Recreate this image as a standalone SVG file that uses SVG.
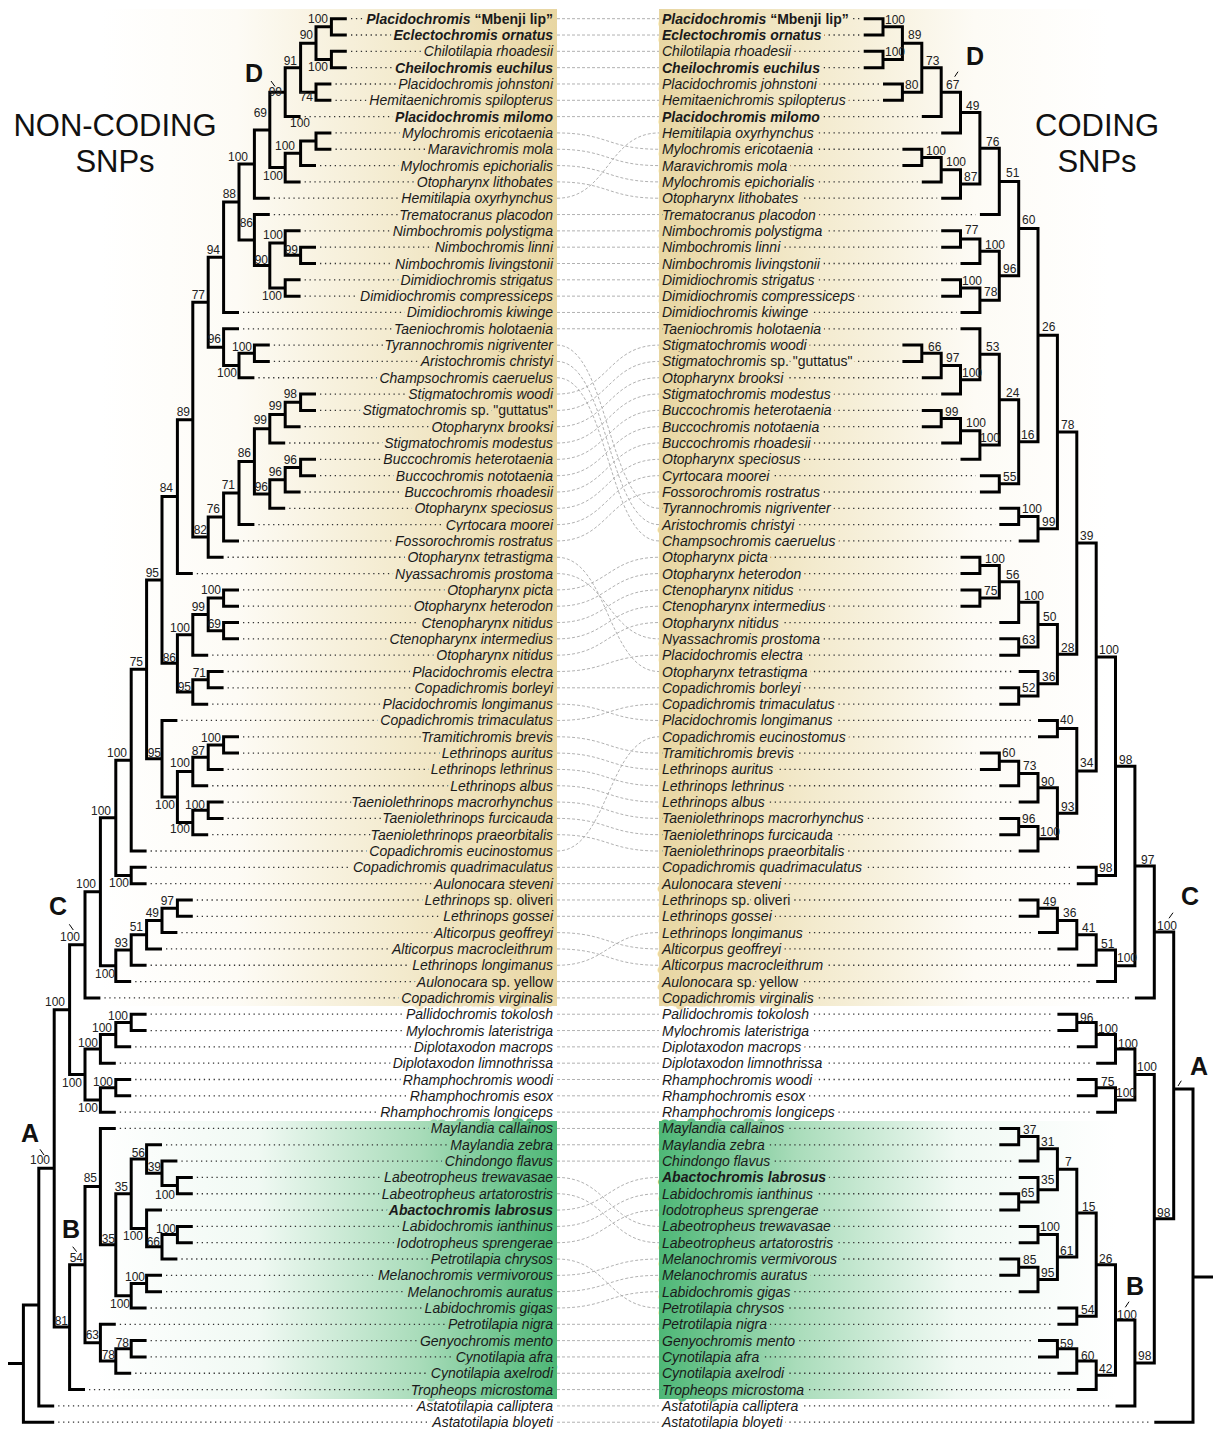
<svg xmlns="http://www.w3.org/2000/svg" width="1213" height="1429" viewBox="0 0 1213 1429">
<style>
.tx{font-family:"Liberation Sans",Arial,sans-serif;font-size:14px;font-style:italic;fill:#1a1a1a;dominant-baseline:central;paint-order:stroke;stroke-width:7px;stroke-linejoin:round}
.L{text-anchor:end}
.R{text-anchor:start}
.hTL{stroke:url(#gTL)}
.hTR{stroke:url(#gTR)}
.hGL{stroke:url(#gGL)}
.hGR{stroke:url(#gGR)}
.hW{stroke:#fff}
.b{font-weight:bold}
.n{font-style:normal}
.bs{font-family:"Liberation Sans",Arial,sans-serif;font-size:12px;fill:#222;dominant-baseline:central}
.bsL{text-anchor:end}
.big{font-family:"Liberation Sans",Arial,sans-serif;font-size:25px;font-weight:bold;text-anchor:middle;fill:#111}
.title{font-family:"Liberation Sans",Arial,sans-serif;font-size:31px;text-anchor:middle;fill:#111}
.tree{fill:none;stroke:#000;stroke-width:3}
.dots{fill:none;stroke:#333;stroke-width:1.3;stroke-dasharray:1.3 3.6}
.conn{fill:none;stroke:#a8a8a8;stroke-width:0.9;stroke-dasharray:3 2}
.tick{stroke:#000;stroke-width:1}
</style>
<defs>
<linearGradient id="gTL" gradientUnits="userSpaceOnUse" x1="100" y1="0" x2="557" y2="0">
<stop offset="0" stop-color="#ffffff"/><stop offset="0.3" stop-color="#fdfbf5"/><stop offset="0.66" stop-color="#f3eacd"/><stop offset="1" stop-color="#e8d6a2"/>
</linearGradient>
<linearGradient id="gTR" gradientUnits="userSpaceOnUse" x1="659" y1="0" x2="1110" y2="0">
<stop offset="0" stop-color="#e8d6a2"/><stop offset="0.34" stop-color="#f3eacd"/><stop offset="0.7" stop-color="#fdfbf5"/><stop offset="1" stop-color="#ffffff"/>
</linearGradient>
<linearGradient id="gGL" gradientUnits="userSpaceOnUse" x1="97" y1="0" x2="557" y2="0">
<stop offset="0" stop-color="#ffffff"/><stop offset="0.35" stop-color="#f0f9f3"/><stop offset="0.7" stop-color="#a9dcba"/><stop offset="1" stop-color="#4db776"/>
</linearGradient>
<linearGradient id="gGR" gradientUnits="userSpaceOnUse" x1="659" y1="0" x2="1116" y2="0">
<stop offset="0" stop-color="#4db776"/><stop offset="0.3" stop-color="#a9dcba"/><stop offset="0.65" stop-color="#f0f9f3"/><stop offset="1" stop-color="#ffffff"/>
</linearGradient>
</defs>
<rect width="1213" height="1429" fill="#fff"/>
<g id="backgrounds-tan">
<rect x="95" y="9" width="462" height="997" fill="url(#gTL)"/>
<rect x="659" y="9" width="456" height="997" fill="url(#gTR)"/>
</g>
<g id="titles">
<text class="title" x="115" y="136">NON-CODING</text>
<text class="title" x="115" y="172">SNPs</text>
<text class="title" x="1097" y="136">CODING</text>
<text class="title" x="1097" y="172">SNPs</text>
</g>
<g id="connectors">
<path class="conn" d="M557 18.7H659M557 35.02H659M557 51.34H659M557 67.66H659M557 83.98H659M557 100.3H659M557 116.62H659M557 214.54H659M557 230.86H659M557 247.18H659M557 263.5H659M557 279.82H659M557 296.14H659M557 312.46H659M557 328.78H659M557 687.82H659M557 867.34H659M557 883.66H659M557 899.98H659M557 916.3H659M557 981.58H659M557 997.9H659M557 1014.22H659M557 1030.54H659M557 1046.86H659M557 1063.18H659M557 1079.5H659M557 1095.82H659M557 1112.14H659M557 1128.46H659M557 1144.78H659M557 1161.1H659M557 1324.3H659M557 1340.62H659M557 1356.94H659M557 1373.26H659M557 1389.58H659M557 1405.9H659M557 1422.22H659"/>
<path class="conn" d="M557 132.94C608 132.94 608 149.26 659 149.26M557 149.26C608 149.26 608 165.58 659 165.58M557 165.58C608 165.58 608 181.9 659 181.9M557 181.9C608 181.9 608 198.22 659 198.22M557 198.22C608 198.22 608 132.94 659 132.94M557 345.1C608 345.1 608 508.3 659 508.3M557 361.42C608 361.42 608 524.62 659 524.62M557 377.74C608 377.74 608 540.94 659 540.94M557 394.06C608 394.06 608 345.1 659 345.1M557 410.38C608 410.38 608 361.42 659 361.42M557 426.7C608 426.7 608 377.74 659 377.74M557 443.02C608 443.02 608 394.06 659 394.06M557 459.34C608 459.34 608 410.38 659 410.38M557 475.66C608 475.66 608 426.7 659 426.7M557 491.98C608 491.98 608 443.02 659 443.02M557 508.3C608 508.3 608 459.34 659 459.34M557 524.62C608 524.62 608 475.66 659 475.66M557 540.94C608 540.94 608 491.98 659 491.98M557 557.26C608 557.26 608 671.5 659 671.5M557 573.58C608 573.58 608 638.86 659 638.86M557 589.9C608 589.9 608 557.26 659 557.26M557 606.22C608 606.22 608 573.58 659 573.58M557 622.54C608 622.54 608 589.9 659 589.9M557 638.86C608 638.86 608 606.22 659 606.22M557 655.18C608 655.18 608 622.54 659 622.54M557 671.5C608 671.5 608 655.18 659 655.18M557 704.14C608 704.14 608 720.46 659 720.46M557 720.46C608 720.46 608 704.14 659 704.14M557 736.78C608 736.78 608 753.1 659 753.1M557 753.1C608 753.1 608 769.42 659 769.42M557 769.42C608 769.42 608 785.74 659 785.74M557 785.74C608 785.74 608 802.06 659 802.06M557 802.06C608 802.06 608 818.38 659 818.38M557 818.38C608 818.38 608 834.7 659 834.7M557 834.7C608 834.7 608 851.02 659 851.02M557 851.02C608 851.02 608 736.78 659 736.78M557 932.62C608 932.62 608 948.94 659 948.94M557 948.94C608 948.94 608 965.26 659 965.26M557 965.26C608 965.26 608 932.62 659 932.62M557 1177.42C608 1177.42 608 1226.38 659 1226.38M557 1193.74C608 1193.74 608 1242.7 659 1242.7M557 1210.06C608 1210.06 608 1177.42 659 1177.42M557 1226.38C608 1226.38 608 1193.74 659 1193.74M557 1242.7C608 1242.7 608 1210.06 659 1210.06M557 1259.02C608 1259.02 608 1307.98 659 1307.98M557 1275.34C608 1275.34 608 1259.02 659 1259.02M557 1291.66C608 1291.66 608 1275.34 659 1275.34M557 1307.98C608 1307.98 608 1291.66 659 1291.66"/>
</g>
<g id="leaders">
<path class="dots" d="M351 18.7H552M351 35.02H552M351 51.34H552M351 67.66H552M335.5 83.98H552M335.5 100.3H552M304.6 116.62H552M335.5 132.94H552M335.5 149.26H552M320 165.58H552M304.6 181.9H552M273.8 198.22H552M273.8 214.54H552M304.6 230.86H552M320 247.18H552M320 263.5H552M304.6 279.82H552M304.6 296.14H552M243 312.46H552M243 328.78H552M273.8 345.1H552M273.8 361.42H552M258.4 377.74H552M320 394.06H552M320 410.38H552M304.6 426.7H552M289.2 443.02H552M320 459.34H552M320 475.66H552M304.6 491.98H552M289.2 508.3H552M258.4 524.62H552M243 540.94H552M227.6 557.26H552M196.8 573.58H552M243 589.9H552M243 606.22H552M243 622.54H552M243 638.86H552M212.2 655.18H552M227.6 671.5H552M227.6 687.82H552M212.2 704.14H552M181.4 720.46H552M243 736.78H552M243 753.1H552M227.6 769.42H552M212.2 785.74H552M227.6 802.06H552M227.6 818.38H552M212.2 834.7H552M150.6 851.02H552M150.6 867.34H552M150.6 883.66H552M196.8 899.98H552M196.8 916.3H552M181.4 932.62H552M166 948.94H552M150.6 965.26H552M135.2 981.58H552M104.4 997.9H552M150.6 1014.22H552M150.6 1030.54H552M135.2 1046.86H552M119.8 1063.18H552M135.2 1079.5H552M135.2 1095.82H552M119.8 1112.14H552M58.2 1405.9H552M58.2 1422.22H552"/>
<path class="dots" d="M662 18.7H859.7M662 35.02H859.7M662 51.34H859.7M662 67.66H859.7M662 83.98H879M662 100.3H879M662 116.62H917.8M662 132.94H937.2M662 149.26H898.4M662 165.58H898.4M662 181.9H917.8M662 198.22H937.2M662 214.54H975.9M662 230.86H937.2M662 247.18H937.2M662 263.5H956.5M662 279.82H937.2M662 296.14H937.2M662 312.46H956.5M662 328.78H956.5M662 345.1H898.4M662 361.42H898.4M662 377.74H917.8M662 394.06H937.2M662 410.38H917.8M662 426.7H917.8M662 443.02H937.2M662 459.34H956.5M662 475.66H975.9M662 491.98H975.9M662 508.3H995.3M662 524.62H995.3M662 540.94H1014.7M662 557.26H956.5M662 573.58H956.5M662 589.9H956.5M662 606.22H956.5M662 622.54H995.3M662 638.86H995.3M662 655.18H995.3M662 671.5H1014.7M662 687.82H995.3M662 704.14H995.3M662 720.46H1034M662 736.78H1034M662 753.1H975.9M662 769.42H975.9M662 785.74H995.3M662 802.06H1014.7M662 818.38H995.3M662 834.7H995.3M662 851.02H1014.7M662 867.34H1072.8M662 883.66H1072.8M662 899.98H1014.7M662 916.3H1014.7M662 932.62H1034M662 948.94H1053.4M662 965.26H1072.8M662 981.58H1092.2M662 997.9H1130.9M662 1014.22H1053.4M662 1030.54H1053.4M662 1046.86H1072.8M662 1063.18H1092.2M662 1079.5H1072.8M662 1095.82H1072.8M662 1112.14H1092.2M662 1405.9H1111.5M662 1422.22H1150.3"/>
</g>
<g id="labels-outside-boxes" class="tx hW">
<g class="L">
<text id="L61" x="553" y="1014.22">Pallidochromis tokolosh</text>
<text id="L62" x="553" y="1030.54">Mylochromis lateristriga</text>
<text id="L63" x="553" y="1046.86">Diplotaxodon macrops</text>
<text id="L64" x="553" y="1063.18">Diplotaxodon limnothrissa</text>
<text id="L65" x="553" y="1079.5">Rhamphochromis woodi</text>
<text id="L66" x="553" y="1095.82">Rhamphochromis esox</text>
<text id="L67" x="553" y="1112.14">Rhamphochromis longiceps</text>
<text id="L85" x="553" y="1405.9">Astatotilapia calliptera</text>
<text id="L86" x="553" y="1422.22">Astatotilapia bloyeti</text>
</g>
<g class="R">
<text id="R61" x="662" y="1014.22">Pallidochromis tokolosh</text>
<text id="R62" x="662" y="1030.54">Mylochromis lateristriga</text>
<text id="R63" x="662" y="1046.86">Diplotaxodon macrops</text>
<text id="R64" x="662" y="1063.18">Diplotaxodon limnothrissa</text>
<text id="R65" x="662" y="1079.5">Rhamphochromis woodi</text>
<text id="R66" x="662" y="1095.82">Rhamphochromis esox</text>
<text id="R67" x="662" y="1112.14">Rhamphochromis longiceps</text>
<text id="R85" x="662" y="1405.9">Astatotilapia calliptera</text>
<text id="R86" x="662" y="1422.22">Astatotilapia bloyeti</text>
</g>
</g>
<g id="backgrounds-green">
<rect x="97" y="1121" width="460" height="278" fill="url(#gGL)"/>
<rect x="659" y="1121" width="457" height="278" fill="url(#gGR)"/>
</g>
<g id="leaders-green">
<path class="dots" d="M119.8 1128.46H552M166 1144.78H552M181.4 1161.1H552M196.8 1177.42H552M196.8 1193.74H552M166 1210.06H552M196.8 1226.38H552M196.8 1242.7H552M181.4 1259.02H552M166 1275.34H552M166 1291.66H552M150.6 1307.98H552M119.8 1324.3H552M150.6 1340.62H552M150.6 1356.94H552M135.2 1373.26H552M89 1389.58H552"/>
<path class="dots" d="M662 1128.46H995.3M662 1144.78H995.3M662 1161.1H1014.7M662 1177.42H1014.7M662 1193.74H995.3M662 1210.06H995.3M662 1226.38H1014.7M662 1242.7H1014.7M662 1259.02H995.3M662 1275.34H995.3M662 1291.66H1014.7M662 1307.98H1053.4M662 1324.3H1053.4M662 1340.62H1034M662 1356.94H1034M662 1373.26H1053.4M662 1389.58H1072.8"/>
</g>
<g id="tree-noncoding">
<path class="tree" d="M8 1363.6H23.4M38.8 1305H23.4V1422.22H54.2M54.2 1168.37H38.8V1405.9H54.2M69.6 1009.63H54.2V1327.11H69.6M85 944.85H69.6V1074.4H85M85 1264.63H69.6V1389.58H85M100.4 891.81H85V997.9H100.4M100.4 1048.9H85V1099.9H100.4M100.4 1186.6H85V1342.66H100.4M115.8 817.84H100.4V965.77H115.8M115.8 1034.62H100.4V1063.18H115.8M115.8 1087.66H100.4V1112.14H115.8M115.8 1128.46H100.4V1244.74H115.8M115.8 1324.3H100.4V1361.02H115.8M131.2 760.18H115.8V875.5H131.2M131.2 949.96H115.8V981.58H131.2M131.2 1022.38H115.8V1046.86H131.2M131.2 1079.5H115.8V1095.82H131.2M131.2 1193.74H115.8V1295.74H131.2M131.2 1348.78H115.8V1373.26H131.2M146.6 669.35H131.2V851.02H146.6M146.6 867.34H131.2V883.66H146.6M146.6 934.66H131.2V965.26H146.6M146.6 1014.22H131.2V1030.54H146.6M146.6 1159.06H131.2V1228.42H146.6M146.6 1283.5H131.2V1307.98H146.6M146.6 1340.62H131.2V1356.94H146.6M162 579.98H146.6V758.71H162M162 920.38H146.6V948.94H162M162 1144.78H146.6V1173.34H162M162 1210.06H146.6V1246.78H162M162 1275.34H146.6V1291.66H162M177.4 496.62H162V663.34H177.4M177.4 720.46H162V796.96H177.4M177.4 908.14H162V932.62H177.4M177.4 1161.1H162V1185.58H177.4M177.4 1234.54H162V1259.02H177.4M192.8 419.66H177.4V573.58H192.8M192.8 634.78H177.4V691.9H192.8M192.8 771.46H177.4V822.46H192.8M192.8 899.98H177.4V916.3H192.8M192.8 1177.42H177.4V1193.74H192.8M192.8 1226.38H177.4V1242.7H192.8M208.2 302.2H192.8V537.12H208.2M208.2 614.38H192.8V655.18H208.2M208.2 679.66H192.8V704.14H208.2M208.2 757.18H192.8V785.74H208.2M208.2 810.22H192.8V834.7H208.2M223.6 257.26H208.2V347.14H223.6M223.6 516.97H208.2V557.26H223.6M223.6 598.06H208.2V630.7H223.6M223.6 671.5H208.2V687.82H223.6M223.6 744.94H208.2V769.42H223.6M223.6 802.06H208.2V818.38H223.6M239 202.05H223.6V312.46H239M239 328.78H223.6V365.5H239M239 493H223.6V540.94H239M239 589.9H223.6V606.22H239M239 622.54H223.6V638.86H239M239 736.78H223.6V753.1H239M254.4 164.05H239V240.04H254.4M254.4 353.26H239V377.74H254.4M254.4 461.38H239V524.62H254.4M269.8 129.88H254.4V198.22H269.8M269.8 214.54H254.4V265.54H269.8M269.8 345.1H254.4V361.42H269.8M269.8 428.74H254.4V494.02H269.8M285.2 92.14H269.8V167.62H285.2M285.2 243.1H269.8V287.98H285.2M285.2 414.46H269.8V443.02H285.2M285.2 479.74H269.8V508.3H285.2M300.6 67.66H285.2V116.62H300.6M300.6 153.34H285.2V181.9H300.6M300.6 230.86H285.2V255.34H300.6M300.6 279.82H285.2V296.14H300.6M300.6 402.22H285.2V426.7H300.6M300.6 467.5H285.2V491.98H300.6M316 43.18H300.6V92.14H316M316 141.1H300.6V165.58H316M316 247.18H300.6V263.5H316M316 394.06H300.6V410.38H316M316 459.34H300.6V475.66H316M331.4 26.86H316V59.5H331.4M331.4 83.98H316V100.3H331.4M331.4 132.94H316V149.26H331.4M346.8 18.7H331.4V35.02H346.8M346.8 51.34H331.4V67.66H346.8"/>
</g>
<g id="tree-coding">
<path class="tree" d="M1193 1277H1213M1173.7 1089H1193V1422.22H1154.3M1154.3 931.96H1173.7V1218.67H1154.3M1134.9 866.01H1154.3V997.9H1134.9M1134.9 1074.4H1154.3V1362.94H1134.9M1115.5 766.25H1134.9V965.77H1115.5M1115.5 1048.9H1134.9V1099.9H1115.5M1115.5 1319.97H1134.9V1405.9H1115.5M1096.2 657H1115.5V875.5H1096.2M1096.2 949.96H1115.5V981.58H1096.2M1096.2 1034.62H1115.5V1063.18H1096.2M1096.2 1087.66H1115.5V1112.14H1096.2M1096.2 1264.63H1115.5V1375.3H1096.2M1076.8 543.05H1096.2V770.95H1076.8M1076.8 867.34H1096.2V883.66H1076.8M1076.8 934.66H1096.2V965.26H1076.8M1076.8 1022.38H1096.2V1046.86H1076.8M1076.8 1079.5H1096.2V1095.82H1076.8M1076.8 1213.12H1096.2V1316.14H1076.8M1076.8 1361.02H1096.2V1389.58H1076.8M1057.4 431.93H1076.8V654.16H1057.4M1057.4 728.62H1076.8V813.28H1057.4M1057.4 920.38H1076.8V948.94H1057.4M1057.4 1014.22H1076.8V1030.54H1057.4M1057.4 1169.26H1076.8V1256.98H1057.4M1057.4 1307.98H1076.8V1324.3H1057.4M1057.4 1348.78H1076.8V1373.26H1057.4M1038 335.16H1057.4V528.7H1038M1038 624.58H1057.4V683.74H1038M1038 720.46H1057.4V736.78H1038M1038 787.78H1057.4V838.78H1038M1038 908.14H1057.4V932.62H1038M1038 1148.86H1057.4V1189.66H1038M1038 1234.54H1057.4V1279.42H1038M1038 1340.62H1057.4V1356.94H1038M1018.7 228.57H1038V441.75H1018.7M1018.7 516.46H1038V540.94H1018.7M1018.7 602.14H1038V647.02H1018.7M1018.7 671.5H1038V695.98H1018.7M1018.7 773.5H1038V802.06H1018.7M1018.7 826.54H1038V851.02H1018.7M1018.7 899.98H1038V916.3H1018.7M1018.7 1136.62H1038V1161.1H1018.7M1018.7 1177.42H1038V1201.9H1018.7M1018.7 1226.38H1038V1242.7H1018.7M1018.7 1267.18H1038V1291.66H1018.7M999.3 181.39H1018.7V275.74H999.3M999.3 399.67H1018.7V483.82H999.3M999.3 508.3H1018.7V524.62H999.3M999.3 581.74H1018.7V622.54H999.3M999.3 638.86H1018.7V655.18H999.3M999.3 687.82H1018.7V704.14H999.3M999.3 761.26H1018.7V785.74H999.3M999.3 818.38H1018.7V834.7H999.3M999.3 1128.46H1018.7V1144.78H999.3M999.3 1193.74H1018.7V1210.06H999.3M999.3 1259.02H1018.7V1275.34H999.3M979.9 148.24H999.3V214.54H979.9M979.9 251.26H999.3V300.22H979.9M979.9 354.28H999.3V445.06H979.9M979.9 475.66H999.3V491.98H979.9M979.9 565.42H999.3V598.06H979.9M979.9 753.1H999.3V769.42H979.9M960.5 112.54H979.9V183.94H960.5M960.5 239.02H979.9V263.5H960.5M960.5 287.98H979.9V312.46H960.5M960.5 328.78H979.9V379.78H960.5M960.5 430.78H979.9V459.34H960.5M960.5 557.26H979.9V573.58H960.5M960.5 589.9H979.9V606.22H960.5M941.2 92.14H960.5V132.94H941.2M941.2 169.66H960.5V198.22H941.2M941.2 230.86H960.5V247.18H941.2M941.2 279.82H960.5V296.14H941.2M941.2 365.5H960.5V394.06H941.2M941.2 418.54H960.5V443.02H941.2M921.8 67.66H941.2V116.62H921.8M921.8 157.42H941.2V181.9H921.8M921.8 353.26H941.2V377.74H921.8M921.8 410.38H941.2V426.7H921.8M902.4 43.18H921.8V92.14H902.4M902.4 149.26H921.8V165.58H902.4M902.4 345.1H921.8V361.42H902.4M883 26.86H902.4V59.5H883M883 83.98H902.4V100.3H883M863.7 18.7H883V35.02H863.7M863.7 51.34H883V67.66H863.7"/>
</g>
<g id="labels-noncoding" class="tx L">
<g class="hTL">
<text id="L0" class="b" x="553" y="18.7">Placidochromis <tspan class="n">“Mbenji lip”</tspan></text>
<text id="L1" class="b" x="553" y="35.02">Eclectochromis ornatus</text>
<text id="L2" x="553" y="51.34">Chilotilapia rhoadesii</text>
<text id="L3" class="b" x="553" y="67.66">Cheilochromis euchilus</text>
<text id="L4" x="553" y="83.98">Placidochromis johnstoni</text>
<text id="L5" x="553" y="100.3">Hemitaenichromis spilopterus</text>
<text id="L6" class="b" x="553" y="116.62">Placidochromis milomo</text>
<text id="L7" x="553" y="132.94">Mylochromis ericotaenia</text>
<text id="L8" x="553" y="149.26">Maravichromis mola</text>
<text id="L9" x="553" y="165.58">Mylochromis epichorialis</text>
<text id="L10" x="553" y="181.9">Otopharynx lithobates</text>
<text id="L11" x="553" y="198.22">Hemitilapia oxyrhynchus</text>
<text id="L12" x="553" y="214.54">Trematocranus placodon</text>
<text id="L13" x="553" y="230.86">Nimbochromis polystigma</text>
<text id="L14" x="553" y="247.18">Nimbochromis linni</text>
<text id="L15" x="553" y="263.5">Nimbochromis livingstonii</text>
<text id="L16" x="553" y="279.82">Dimidiochromis strigatus</text>
<text id="L17" x="553" y="296.14">Dimidiochromis compressiceps</text>
<text id="L18" x="553" y="312.46">Dimidiochromis kiwinge</text>
<text id="L19" x="553" y="328.78">Taeniochromis holotaenia</text>
<text id="L20" x="553" y="345.1">Tyrannochromis nigriventer</text>
<text id="L21" x="553" y="361.42">Aristochromis christyi</text>
<text id="L22" x="553" y="377.74">Champsochromis caeruelus</text>
<text id="L23" x="553" y="394.06">Stigmatochromis woodi</text>
<text id="L24" x="553" y="410.38">Stigmatochromis <tspan class="n">sp. "guttatus"</tspan></text>
<text id="L25" x="553" y="426.7">Otopharynx brooksi</text>
<text id="L26" x="553" y="443.02">Stigmatochromis modestus</text>
<text id="L27" x="553" y="459.34">Buccochromis heterotaenia</text>
<text id="L28" x="553" y="475.66">Buccochromis nototaenia</text>
<text id="L29" x="553" y="491.98">Buccochromis rhoadesii</text>
<text id="L30" x="553" y="508.3">Otopharynx speciosus</text>
<text id="L31" x="553" y="524.62">Cyrtocara moorei</text>
<text id="L32" x="553" y="540.94">Fossorochromis rostratus</text>
<text id="L33" x="553" y="557.26">Otopharynx tetrastigma</text>
<text id="L34" x="553" y="573.58">Nyassachromis prostoma</text>
<text id="L35" x="553" y="589.9">Otopharynx picta</text>
<text id="L36" x="553" y="606.22">Otopharynx heterodon</text>
<text id="L37" x="553" y="622.54">Ctenopharynx nitidus</text>
<text id="L38" x="553" y="638.86">Ctenopharynx intermedius</text>
<text id="L39" x="553" y="655.18">Otopharynx nitidus</text>
<text id="L40" x="553" y="671.5">Placidochromis electra</text>
<text id="L41" x="553" y="687.82">Copadichromis borleyi</text>
<text id="L42" x="553" y="704.14">Placidochromis longimanus</text>
<text id="L43" x="553" y="720.46">Copadichromis trimaculatus</text>
<text id="L44" x="553" y="736.78">Tramitichromis brevis</text>
<text id="L45" x="553" y="753.1">Lethrinops auritus</text>
<text id="L46" x="553" y="769.42">Lethrinops lethrinus</text>
<text id="L47" x="553" y="785.74">Lethrinops albus</text>
<text id="L48" x="553" y="802.06">Taeniolethrinops macrorhynchus</text>
<text id="L49" x="553" y="818.38">Taeniolethrinops furcicauda</text>
<text id="L50" x="553" y="834.7">Taeniolethrinops praeorbitalis</text>
<text id="L51" x="553" y="851.02">Copadichromis eucinostomus</text>
<text id="L52" x="553" y="867.34">Copadichromis quadrimaculatus</text>
<text id="L53" x="553" y="883.66">Aulonocara steveni</text>
<text id="L54" x="553" y="899.98">Lethrinops <tspan class="n">sp. oliveri</tspan></text>
<text id="L55" x="553" y="916.3">Lethrinops gossei</text>
<text id="L56" x="553" y="932.62">Alticorpus geoffreyi</text>
<text id="L57" x="553" y="948.94">Alticorpus macrocleithrum</text>
<text id="L58" x="553" y="965.26">Lethrinops longimanus</text>
<text id="L59" x="553" y="981.58">Aulonocara <tspan class="n">sp. yellow</tspan></text>
<text id="L60" x="553" y="997.9">Copadichromis virginalis</text>
</g>
<g class="hGL">
<text id="L68" x="553" y="1128.46">Maylandia callainos</text>
<text id="L69" x="553" y="1144.78">Maylandia zebra</text>
<text id="L70" x="553" y="1161.1">Chindongo flavus</text>
<text id="L71" x="553" y="1177.42">Labeotropheus trewavasae</text>
<text id="L72" x="553" y="1193.74">Labeotropheus artatorostris</text>
<text id="L73" class="b" x="553" y="1210.06">Abactochromis labrosus</text>
<text id="L74" x="553" y="1226.38">Labidochromis ianthinus</text>
<text id="L75" x="553" y="1242.7">Iodotropheus sprengerae</text>
<text id="L76" x="553" y="1259.02">Petrotilapia chrysos</text>
<text id="L77" x="553" y="1275.34">Melanochromis vermivorous</text>
<text id="L78" x="553" y="1291.66">Melanochromis auratus</text>
<text id="L79" x="553" y="1307.98">Labidochromis gigas</text>
<text id="L80" x="553" y="1324.3">Petrotilapia nigra</text>
<text id="L81" x="553" y="1340.62">Genyochromis mento</text>
<text id="L82" x="553" y="1356.94">Cynotilapia afra</text>
<text id="L83" x="553" y="1373.26">Cynotilapia axelrodi</text>
<text id="L84" x="553" y="1389.58">Tropheops microstoma</text>
</g>
</g>
<g id="labels-coding" class="tx R">
<g class="hTR">
<text id="R0" class="b" x="662" y="18.7">Placidochromis <tspan class="n">“Mbenji lip”</tspan></text>
<text id="R1" class="b" x="662" y="35.02">Eclectochromis ornatus</text>
<text id="R2" x="662" y="51.34">Chilotilapia rhoadesii</text>
<text id="R3" class="b" x="662" y="67.66">Cheilochromis euchilus</text>
<text id="R4" x="662" y="83.98">Placidochromis johnstoni</text>
<text id="R5" x="662" y="100.3">Hemitaenichromis spilopterus</text>
<text id="R6" class="b" x="662" y="116.62">Placidochromis milomo</text>
<text id="R7" x="662" y="132.94">Hemitilapia oxyrhynchus</text>
<text id="R8" x="662" y="149.26">Mylochromis ericotaenia</text>
<text id="R9" x="662" y="165.58">Maravichromis mola</text>
<text id="R10" x="662" y="181.9">Mylochromis epichorialis</text>
<text id="R11" x="662" y="198.22">Otopharynx lithobates</text>
<text id="R12" x="662" y="214.54">Trematocranus placodon</text>
<text id="R13" x="662" y="230.86">Nimbochromis polystigma</text>
<text id="R14" x="662" y="247.18">Nimbochromis linni</text>
<text id="R15" x="662" y="263.5">Nimbochromis livingstonii</text>
<text id="R16" x="662" y="279.82">Dimidiochromis strigatus</text>
<text id="R17" x="662" y="296.14">Dimidiochromis compressiceps</text>
<text id="R18" x="662" y="312.46">Dimidiochromis kiwinge</text>
<text id="R19" x="662" y="328.78">Taeniochromis holotaenia</text>
<text id="R20" x="662" y="345.1">Stigmatochromis woodi</text>
<text id="R21" x="662" y="361.42">Stigmatochromis <tspan class="n">sp. "guttatus"</tspan></text>
<text id="R22" x="662" y="377.74">Otopharynx brooksi</text>
<text id="R23" x="662" y="394.06">Stigmatochromis modestus</text>
<text id="R24" x="662" y="410.38">Buccochromis heterotaenia</text>
<text id="R25" x="662" y="426.7">Buccochromis nototaenia</text>
<text id="R26" x="662" y="443.02">Buccochromis rhoadesii</text>
<text id="R27" x="662" y="459.34">Otopharynx speciosus</text>
<text id="R28" x="662" y="475.66">Cyrtocara moorei</text>
<text id="R29" x="662" y="491.98">Fossorochromis rostratus</text>
<text id="R30" x="662" y="508.3">Tyrannochromis nigriventer</text>
<text id="R31" x="662" y="524.62">Aristochromis christyi</text>
<text id="R32" x="662" y="540.94">Champsochromis caeruelus</text>
<text id="R33" x="662" y="557.26">Otopharynx picta</text>
<text id="R34" x="662" y="573.58">Otopharynx heterodon</text>
<text id="R35" x="662" y="589.9">Ctenopharynx nitidus</text>
<text id="R36" x="662" y="606.22">Ctenopharynx intermedius</text>
<text id="R37" x="662" y="622.54">Otopharynx nitidus</text>
<text id="R38" x="662" y="638.86">Nyassachromis prostoma</text>
<text id="R39" x="662" y="655.18">Placidochromis electra</text>
<text id="R40" x="662" y="671.5">Otopharynx tetrastigma</text>
<text id="R41" x="662" y="687.82">Copadichromis borleyi</text>
<text id="R42" x="662" y="704.14">Copadichromis trimaculatus</text>
<text id="R43" x="662" y="720.46">Placidochromis longimanus</text>
<text id="R44" x="662" y="736.78">Copadichromis eucinostomus</text>
<text id="R45" x="662" y="753.1">Tramitichromis brevis</text>
<text id="R46" x="662" y="769.42">Lethrinops auritus</text>
<text id="R47" x="662" y="785.74">Lethrinops lethrinus</text>
<text id="R48" x="662" y="802.06">Lethrinops albus</text>
<text id="R49" x="662" y="818.38">Taeniolethrinops macrorhynchus</text>
<text id="R50" x="662" y="834.7">Taeniolethrinops furcicauda</text>
<text id="R51" x="662" y="851.02">Taeniolethrinops praeorbitalis</text>
<text id="R52" x="662" y="867.34">Copadichromis quadrimaculatus</text>
<text id="R53" x="662" y="883.66">Aulonocara steveni</text>
<text id="R54" x="662" y="899.98">Lethrinops <tspan class="n">sp. oliveri</tspan></text>
<text id="R55" x="662" y="916.3">Lethrinops gossei</text>
<text id="R56" x="662" y="932.62">Lethrinops longimanus</text>
<text id="R57" x="662" y="948.94">Alticorpus geoffreyi</text>
<text id="R58" x="662" y="965.26">Alticorpus macrocleithrum</text>
<text id="R59" x="662" y="981.58">Aulonocara <tspan class="n">sp. yellow</tspan></text>
<text id="R60" x="662" y="997.9">Copadichromis virginalis</text>
</g>
<g class="hGR">
<text id="R68" x="662" y="1128.46">Maylandia callainos</text>
<text id="R69" x="662" y="1144.78">Maylandia zebra</text>
<text id="R70" x="662" y="1161.1">Chindongo flavus</text>
<text id="R71" class="b" x="662" y="1177.42">Abactochromis labrosus</text>
<text id="R72" x="662" y="1193.74">Labidochromis ianthinus</text>
<text id="R73" x="662" y="1210.06">Iodotropheus sprengerae</text>
<text id="R74" x="662" y="1226.38">Labeotropheus trewavasae</text>
<text id="R75" x="662" y="1242.7">Labeotropheus artatorostris</text>
<text id="R76" x="662" y="1259.02">Melanochromis vermivorous</text>
<text id="R77" x="662" y="1275.34">Melanochromis auratus</text>
<text id="R78" x="662" y="1291.66">Labidochromis gigas</text>
<text id="R79" x="662" y="1307.98">Petrotilapia chrysos</text>
<text id="R80" x="662" y="1324.3">Petrotilapia nigra</text>
<text id="R81" x="662" y="1340.62">Genyochromis mento</text>
<text id="R82" x="662" y="1356.94">Cynotilapia afra</text>
<text id="R83" x="662" y="1373.26">Cynotilapia axelrodi</text>
<text id="R84" x="662" y="1389.58">Tropheops microstoma</text>
</g>
</g>
<g id="support-noncoding" class="bs bsL">
<text x="328" y="19">100</text><text x="328" y="67">100</text><text x="313" y="35">90</text><text x="313" y="97">74</text><text x="297" y="61">91</text><text x="282" y="92">99</text>
<text x="310" y="123">100</text><text x="295" y="146">100</text><text x="283" y="176">100</text><text x="267" y="113">69</text><text x="248" y="157">100</text><text x="236" y="194">88</text>
<text x="283" y="235">100</text><text x="253" y="223">86</text><text x="298" y="250">99</text><text x="268" y="260">90</text><text x="282" y="296">100</text><text x="220" y="250">94</text>
<text x="205" y="295">77</text><text x="221" y="339">96</text><text x="252" y="347">100</text><text x="237" y="373">100</text>
<text x="297" y="394">98</text><text x="282" y="406">99</text><text x="267" y="420">99</text><text x="190" y="412">89</text><text x="251" y="453">86</text>
<text x="297" y="460">96</text><text x="282" y="472">96</text><text x="268" y="487">96</text><text x="235" y="485">71</text><text x="173" y="488">84</text><text x="220" y="509">76</text><text x="207" y="530">82</text>
<text x="159" y="573">95</text><text x="221" y="590">100</text><text x="205" y="607">99</text><text x="221" y="624">69</text><text x="190" y="628">100</text><text x="176" y="658">86</text>
<text x="143" y="662">75</text><text x="206" y="673">71</text><text x="191" y="687">95</text>
<text x="221" y="738">100</text><text x="205" y="751">87</text><text x="127" y="753">100</text><text x="161" y="753">95</text><text x="190" y="763">100</text>
<text x="205" y="805">100</text><text x="175" y="805">100</text><text x="190" y="829">100</text><text x="111" y="811">100</text><text x="129" y="883">100</text><text x="96" y="884">100</text>
<text x="174" y="901">97</text><text x="159" y="913">49</text><text x="143" y="927">51</text><text x="80" y="937">100</text><text x="128" y="943">93</text><text x="115" y="974">100</text>
<text x="65" y="1002">100</text><text x="128" y="1016">100</text><text x="112" y="1028">100</text><text x="98" y="1043">100</text><text x="82" y="1083">100</text><text x="113" y="1082">100</text><text x="98" y="1108">100</text>
<text x="50" y="1160">100</text><text x="145" y="1153">56</text><text x="161" y="1167">39</text><text x="97" y="1178">85</text><text x="128" y="1187">35</text><text x="175" y="1195">100</text>
<text x="176" y="1229">100</text><text x="143" y="1236">100</text><text x="115" y="1239">35</text><text x="160" y="1242">66</text><text x="83" y="1258">54</text>
<text x="145" y="1277">100</text><text x="130" y="1304">100</text><text x="68" y="1321">81</text><text x="99" y="1335">63</text><text x="129" y="1343">78</text><text x="115" y="1355">78</text>
</g>
<g id="support-coding" class="bs">
<text x="885" y="20">100</text><text x="908" y="35">89</text><text x="885" y="52">100</text><text x="926" y="61">73</text><text x="905" y="85">80</text><text x="946" y="85">67</text>
<text x="966" y="106">49</text><text x="986" y="142">76</text><text x="926" y="151">100</text><text x="946" y="162">100</text><text x="1006" y="173">51</text><text x="964" y="177">87</text>
<text x="1022" y="220">60</text><text x="965" y="230">77</text><text x="985" y="245">100</text><text x="1003" y="269">96</text><text x="962" y="281">100</text><text x="984" y="292">78</text>
<text x="1042" y="327">26</text><text x="986" y="347">53</text><text x="928" y="347">66</text><text x="946" y="358">97</text><text x="962" y="373">100</text><text x="1006" y="393">24</text>
<text x="945" y="412">99</text><text x="966" y="423">100</text><text x="1061" y="425">78</text><text x="1021" y="435">16</text><text x="980" y="438">100</text><text x="1003" y="477">55</text>
<text x="1022" y="509">100</text><text x="1042" y="522">99</text><text x="1080" y="536">39</text><text x="985" y="559">100</text><text x="1006" y="575">56</text><text x="984" y="591">75</text>
<text x="1024" y="596">100</text><text x="1043" y="617">50</text><text x="1022" y="640">63</text><text x="1061" y="648">28</text><text x="1099" y="650">100</text><text x="1042" y="677">36</text><text x="1022" y="688">52</text>
<text x="1060" y="720">40</text><text x="1002" y="753">60</text><text x="1119" y="760">98</text><text x="1080" y="763">34</text><text x="1023" y="766">73</text><text x="1041" y="782">90</text>
<text x="1061" y="807">93</text><text x="1022" y="819">96</text><text x="1040" y="832">100</text><text x="1141" y="860">97</text><text x="1099" y="868">98</text>
<text x="1043" y="902">49</text><text x="1063" y="913">36</text><text x="1157" y="926">100</text><text x="1082" y="928">41</text><text x="1101" y="944">51</text><text x="1117" y="958">100</text>
<text x="1080" y="1018">96</text><text x="1098" y="1029">100</text><text x="1118" y="1044">100</text><text x="1137" y="1067">100</text><text x="1101" y="1082">75</text><text x="1116" y="1093">100</text>
<text x="1023" y="1130">37</text><text x="1041" y="1142">31</text><text x="1065" y="1162">7</text><text x="1041" y="1180">35</text><text x="1021" y="1193">65</text><text x="1082" y="1207">15</text><text x="1157" y="1213">98</text>
<text x="1040" y="1227">100</text><text x="1060" y="1251">61</text><text x="1099" y="1259">26</text><text x="1023" y="1260">85</text><text x="1041" y="1273">95</text>
<text x="1117" y="1315">100</text><text x="1081" y="1310">54</text><text x="1060" y="1344">59</text><text x="1138" y="1356">98</text><text x="1081" y="1356">60</text><text x="1099" y="1369">42</text>
</g>
<g id="clade-marks">
<text class="big" x="254" y="82">D</text>
<text class="big" x="58" y="915">C</text>
<text class="big" x="30" y="1142">A</text>
<text class="big" x="71" y="1238">B</text>
<text class="big" x="975" y="65">D</text>
<text class="big" x="1190" y="905">C</text>
<text class="big" x="1199" y="1075">A</text>
<text class="big" x="1135" y="1295">B</text>
<line class="tick" x1="271" y1="81" x2="275" y2="86.5"/>
<line class="tick" x1="69.3" y1="924.3" x2="73.3" y2="930"/>
<line class="tick" x1="40" y1="1149.3" x2="44" y2="1155"/>
<line class="tick" x1="72.7" y1="1246.7" x2="76.7" y2="1251.7"/>
<line class="tick" x1="954.7" y1="76.7" x2="958" y2="71.7"/>
<line class="tick" x1="1169" y1="918.3" x2="1173" y2="912.7"/>
<line class="tick" x1="1178" y1="1086" x2="1181.3" y2="1080.7"/>
<line class="tick" x1="1125.3" y1="1307.3" x2="1129" y2="1301.7"/>
</g>
</svg>
